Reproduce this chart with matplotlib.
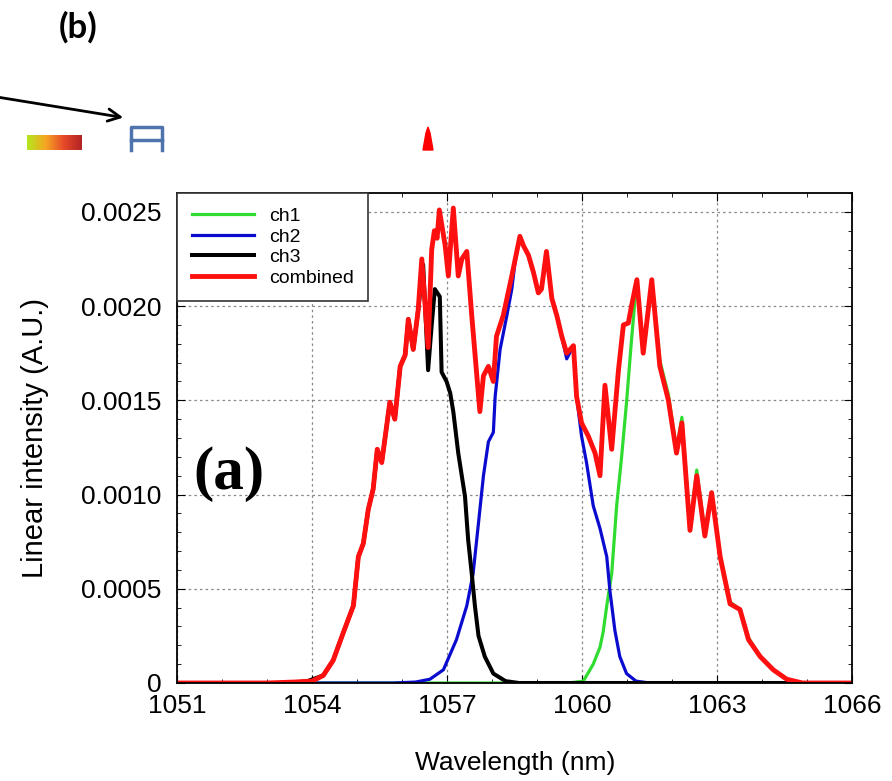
import numpy as np
import matplotlib.pyplot as plt
from matplotlib.patches import Polygon
from matplotlib.colors import LinearSegmentedColormap
from matplotlib.ticker import MultipleLocator

plt.rcParams['font.family'] = ['Liberation Sans', 'DejaVu Sans']

# ch1 (green)
ch1_wl = [1051, 1059.7, 1060.03, 1060.25, 1060.40, 1060.47, 1060.55, 1060.66, 1060.77, 1060.88,
          1060.99, 1061.10, 1061.18, 1061.22, 1061.36, 1061.55, 1061.73, 1061.92, 1062.10, 1062.22,
          1062.40, 1062.55, 1062.73, 1062.88, 1063.07, 1063.29, 1063.51, 1063.70, 1063.96, 1064.25,
          1064.55, 1064.9, 1066]
ch1_val = [0, 0, 0.00001, 0.00010, 0.00019, 0.00027, 0.00041, 0.00058, 0.00094, 0.00120,
           0.00149, 0.00182, 0.00204, 0.00213, 0.00175, 0.00214, 0.00171, 0.00153, 0.00124, 0.00141,
           0.00083, 0.00113, 0.00080, 0.00101, 0.00068, 0.00043, 0.00039, 0.00024, 0.00014, 0.00007,
           0.00002, 0, 0]

# ch2 (blue)
ch2_wl = [1051, 1055.8, 1056.3, 1056.62, 1056.92, 1057.21, 1057.44, 1057.58, 1057.70, 1057.81,
          1057.92, 1058.03, 1058.07, 1058.18, 1058.33, 1058.44, 1058.51, 1058.62, 1058.70, 1058.81,
          1058.92, 1059.03, 1059.10, 1059.21, 1059.33, 1059.44, 1059.55, 1059.66, 1059.81, 1059.88,
          1059.99, 1060.10, 1060.25, 1060.40, 1060.55, 1060.62, 1060.73, 1060.84, 1060.99, 1061.2,
          1061.5, 1066]
ch2_val = [0, 0, 0.000005, 0.00002, 0.00007, 0.00023, 0.00041, 0.00058, 0.00085, 0.00110,
           0.00128, 0.00133, 0.00152, 0.00177, 0.00195, 0.00209, 0.00223, 0.00237, 0.00232, 0.00227,
           0.00218, 0.00207, 0.00209, 0.00229, 0.00204, 0.00195, 0.00184, 0.00172, 0.00179, 0.00152,
           0.00131, 0.00117, 0.00094, 0.00082, 0.00067, 0.00049, 0.00028, 0.00014, 0.00005, 0.00001,
           0, 0]

# ch3 (black)
ch3_wl = [1051, 1053.5, 1053.9, 1054.25, 1054.47, 1054.70, 1054.92, 1055.03, 1055.14, 1055.25,
          1055.36, 1055.45, 1055.55, 1055.73, 1055.84, 1055.96, 1056.07, 1056.14, 1056.25, 1056.36,
          1056.47, 1056.58, 1056.66, 1056.73, 1056.84, 1056.88, 1056.99, 1057.07, 1057.14, 1057.25,
          1057.40, 1057.47, 1057.55, 1057.62, 1057.70, 1057.84, 1058.03, 1058.30, 1058.60, 1066]
ch3_val = [0, 0, 0.00001, 0.00004, 0.00012, 0.00027, 0.00041, 0.00067, 0.00074, 0.00092,
           0.00103, 0.00124, 0.00117, 0.00149, 0.00140, 0.00168, 0.00174, 0.00193, 0.00177, 0.00198,
           0.00222, 0.00166, 0.00190, 0.00209, 0.00205, 0.00165, 0.00160, 0.00154, 0.00144, 0.00122,
           0.00099, 0.00076, 0.00058, 0.00041, 0.00025, 0.00014, 0.00005, 0.00001, 0, 0]

# combined (red)
comb_wl = [1051, 1053.0, 1053.6, 1054.0, 1054.25, 1054.47, 1054.70, 1054.92, 1055.03, 1055.14,
           1055.25, 1055.36, 1055.45, 1055.55, 1055.73, 1055.84, 1055.96, 1056.07, 1056.14, 1056.25,
           1056.36, 1056.44, 1056.58, 1056.66, 1056.72, 1056.78, 1056.83, 1056.96, 1057.03, 1057.14,
           1057.25, 1057.33, 1057.44, 1057.55, 1057.73, 1057.81, 1057.92, 1058.03, 1058.10, 1058.25,
           1058.44, 1058.62, 1058.70, 1058.81, 1058.92, 1059.03, 1059.10, 1059.21, 1059.33, 1059.44,
           1059.55, 1059.66, 1059.81, 1059.88, 1059.99, 1060.14, 1060.29, 1060.40, 1060.51, 1060.66,
           1060.81, 1060.92, 1061.03, 1061.10, 1061.22, 1061.36, 1061.55, 1061.73, 1061.92, 1062.10,
           1062.22, 1062.40, 1062.55, 1062.73, 1062.88, 1063.07, 1063.29, 1063.51, 1063.70, 1063.96,
           1064.25, 1064.55, 1064.9, 1066]
comb_val = [0, 0, 0.000005, 0.00001, 0.00004, 0.00012, 0.00027, 0.00041, 0.00067, 0.00074,
            0.00092, 0.00103, 0.00124, 0.00117, 0.00149, 0.00140, 0.00168, 0.00174, 0.00193, 0.00177,
            0.00198, 0.00225, 0.00178, 0.00230, 0.00240, 0.00236, 0.00251, 0.00232, 0.00216, 0.00252,
            0.00216, 0.00225, 0.00229, 0.00195, 0.00144, 0.00163, 0.00168, 0.00160, 0.00184, 0.00195,
            0.00216, 0.00237, 0.00232, 0.00227, 0.00218, 0.00207, 0.00209, 0.00229, 0.00204, 0.00195,
            0.00184, 0.00175, 0.00179, 0.00152, 0.00138, 0.00131, 0.00122, 0.00110, 0.00158, 0.00124,
            0.00166, 0.00190, 0.00191, 0.00200, 0.00214, 0.00175, 0.00214, 0.00168, 0.00150, 0.00122,
            0.00138, 0.00081, 0.00110, 0.00078, 0.00101, 0.00067, 0.00042, 0.00039, 0.00023, 0.00014,
            0.00007, 0.00002, 0, 0]

x_ticks = [1051, 1054, 1057, 1060, 1063, 1066]
y_ticks = [0, 0.0005, 0.0010, 0.0015, 0.0020, 0.0025]
y_tick_labels = ['0', '0.0005', '0.0010', '0.0015', '0.0020', '0.0025']

W, H = 892, 781
fig = plt.figure(figsize=(W / 100, H / 100), dpi=100)

# leftover bits of panel (b) above the chart, drawn in pixel coords
bg = fig.add_axes([0, 0, 1, 1], zorder=0)
bg.text(78, 27, '(b)', fontsize=25, fontweight='bold', family=['Lato', 'DejaVu Sans'],
        ha='center', va='center')
bg.annotate('', xy=(126, 118), xytext=(-3, 97),
            arrowprops=dict(arrowstyle='->', lw=2, color='k', mutation_scale=22))
grad = LinearSegmentedColormap.from_list('g', ['#b5e61d', '#f5a623', '#e84a2a', '#b32424'])
bg.imshow(np.linspace(0, 1, 64).reshape(1, -1), cmap=grad, aspect='auto',
          extent=[27, 82, 150, 135])
blue_box = '#4f74ad'
bg.plot([131, 131, 162, 162], [150, 127, 127, 150], color=blue_box, lw=2.5)
bg.plot([131, 162], [139.5, 139.5], color=blue_box, lw=2.5)
bg.add_patch(Polygon([(423, 150), (426, 133), (428, 127), (430, 133), (433, 150)],
                     closed=True, color='red'))
bg.set_xlim(0, W)
bg.set_ylim(H, 0)
bg.axis('off')

# main chart (a)
ax = fig.add_axes([177 / W, 98 / H, 675 / W, 490 / H], zorder=1)
ax.plot(ch1_wl, ch1_val, color='#2fdc2f', lw=2.3, label='ch1')
ax.plot(ch2_wl, ch2_val, color='#0b0bd0', lw=2.3, label='ch2')
ax.plot(ch3_wl, ch3_val, color='black', lw=2.9, label='ch3')
ax.plot(comb_wl, comb_val, color='#ff1010', lw=3.5, label='combined')

ax.set_xlim(1051, 1066)
ax.set_ylim(0, 0.0026)
ax.set_xticks(x_ticks, labels=[str(t) for t in x_ticks])
ax.set_yticks(y_ticks, labels=y_tick_labels)
ax.xaxis.set_minor_locator(MultipleLocator(1))
ax.yaxis.set_minor_locator(MultipleLocator(0.0001))
ax.tick_params(which='both', direction='in', top=True, right=True, labelsize=19)
ax.tick_params(which='major', length=6)
ax.tick_params(which='minor', length=3)
ax.tick_params(axis='x', pad=8)
ax.tick_params(axis='y', pad=11)
ax.grid(True, which='major', color='#888888', linestyle=(0, (2, 2.5)), lw=0.9)
ax.set_axisbelow(True)
for s in ax.spines.values():
    s.set_linewidth(1.3)

leg = ax.legend(loc='upper left', bbox_to_anchor=(0, 1), borderaxespad=0, fontsize=14,
                handlelength=3.2, handletextpad=0.77, labelspacing=0.15, borderpad=0.75,
                fancybox=False, edgecolor='#333333', framealpha=1)
leg.get_frame().set_linewidth(1.2)

ax.text(1051.36, 0.00111, '(a)', fontsize=44, fontweight='bold',
        family=['Liberation Serif', 'DejaVu Serif'], va='center', ha='left')

fig.text(35 / W, 1 - 438 / H, 'Linear intensity (A.U.)', rotation=90, fontsize=21,
         ha='center', va='center')
fig.text(515 / W, 1 - 763 / H, 'Wavelength (nm)', fontsize=19, ha='center', va='center')

fig.savefig('out.png', dpi=100)
